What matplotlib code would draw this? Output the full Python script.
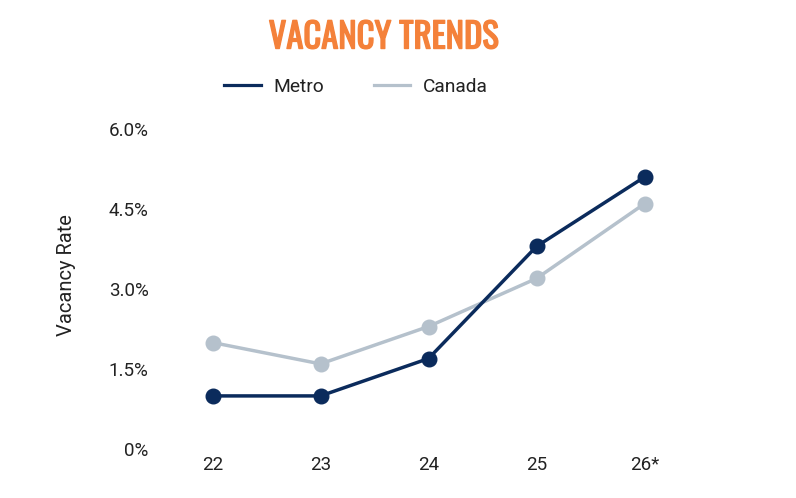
import matplotlib
matplotlib.use("Agg")
from matplotlib import pyplot as plt
from matplotlib.lines import Line2D
import matplotlib.patheffects as pe

years = ['22', '23', '24', '25', '26*']
metro = [1.0, 1.0, 1.7, 3.8, 5.1]
canada = [2.0, 1.6, 2.3, 3.2, 4.6]
y_ticks = [0, 1.5, 3.0, 4.5, 6.0]
y_labels = ['0%', '1.5%', '3.0%', '4.5%', '6.0%']

navy = '#0b2b5c'
grey = '#b5c1cc'
orange = '#f4813a'
txt = '#222222'

plt.rcParams['font.family'] = ['Roboto', 'DejaVu Sans']

fig = plt.figure(figsize=(7.96, 4.98), dpi=100)
# axes placed so the category centres land where the reference has them
ax = fig.add_axes([158.5 / 796, 1 - 449.3 / 498, 540 / 796, 320.3 / 498])

x = list(range(len(years)))
ax.plot(x, canada, color=grey, lw=2.5, marker='o', ms=10.5, zorder=2)
ax.plot(x, metro, color=navy, lw=2.5, marker='o', ms=10.5, zorder=3)

ax.set_xlim(-0.5, len(years) - 0.5)
ax.set_ylim(0, 6)
ax.set_xticks(x)
ax.set_xticklabels(years)
ax.set_yticks(y_ticks)
ax.set_yticklabels(y_labels)
ax.tick_params(length=0, labelsize=13.5, colors=txt)
ax.tick_params(axis='y', pad=7)
ax.tick_params(axis='x', pad=5)
for s in ax.spines.values():
    s.set_visible(False)

fig.text(67 / 796, 1 - 275 / 498, 'Vacancy Rate', rotation=90, ha='center', va='center',
         fontsize=14.5, color=txt)

fig.text(383.5 / 796, 1 - 37.5 / 498, 'VACANCY TRENDS', ha='center', va='center',
         fontsize=25, color=orange, family=['Oswald', 'DejaVu Sans'],
         path_effects=[pe.withStroke(linewidth=1.0, foreground=orange)])

handles = [Line2D([], [], color=navy, lw=2.3), Line2D([], [], color=grey, lw=2.3)]
fig.legend(handles, ['Metro', 'Canada'], ncol=2, frameon=False, loc='center',
           bbox_to_anchor=(356 / 796, 1 - 87 / 498), fontsize=13.8,
           handlelength=1.9, handletextpad=0.65, columnspacing=2.6, labelcolor=txt)

fig.savefig('out.png', dpi=100, facecolor='white')
